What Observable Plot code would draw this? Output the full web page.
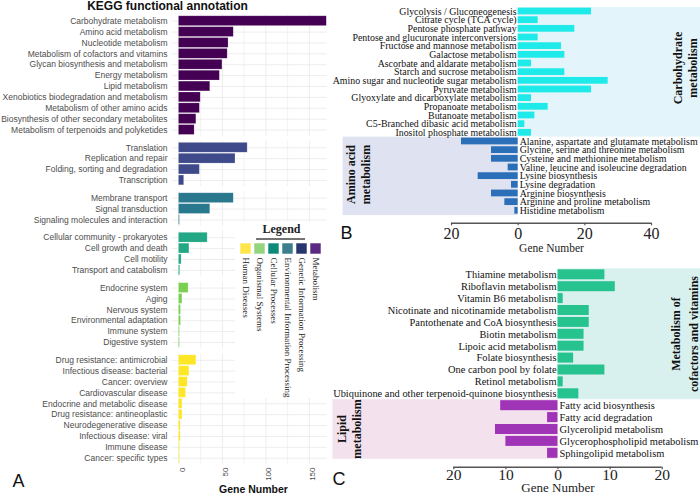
<!DOCTYPE html>
<html><head><meta charset="utf-8">
<script src="https://cdn.jsdelivr.net/npm/d3@7"></script>
<script src="https://cdn.jsdelivr.net/npm/@observablehq/plot@0.6"></script>
<style>
body{margin:0;background:#fff;}
#chart{position:relative;width:700px;height:494px;overflow:hidden;background:#fff;}
#chart svg{position:absolute;}
</style></head><body><div id="chart"></div>
<script>
// ---------- Panel A data ----------
const groupsA = ["Metabolism","Genetic Information Processing","Environmental Information Processing","Cellular Processes","Organismal Systems","Human Diseases"];
const metabolismNames = ["Carbohydrate metabolism","Amino acid metabolism","Nucleotide metabolism","Metabolism of cofactors and vitamins","Glycan biosynthesis and metabolism","Energy metabolism","Lipid metabolism","Xenobiotics biodegradation and metabolism","Metabolism of other amino acids","Biosynthesis of other secondary metabolites","Metabolism of terpenoids and polyketides"];
const metabolismValues = [170,63,57,56,50,47,36,25,24,20,18];
const geneticNames = ["Translation","Replication and repair","Folding, sorting and degradation","Transcription"];
const geneticValues = [79,65,24,6];
const environmentalNames = ["Membrane transport","Signal transduction","Signaling molecules and interaction"];
const environmentalValues = [63,36,1];
const cellularNames = ["Cellular community - prokaryotes","Cell growth and death","Cell motility","Transport and catabolism"];
const cellularValues = [33,12,3,1.4];
const organismalNames = ["Endocrine system","Aging","Nervous system","Environmental adaptation","Immune system","Digestive system"];
const organismalValues = [11,4,2.3,2.3,1,1];
const humanNames = ["Drug resistance: antimicrobial","Infectious disease: bacterial","Cancer: overview","Cardiovascular disease","Endocrine and metabolic disease","Drug resistance: antineoplastic","Neurodegenerative disease","Infectious disease: viral","Immune disease","Cancer: specific types"];
const humanValues = [20,12,10,8,4,4,2,2,1,1];
const barColorsA = ["#440154","#3e4a89","#2a788e","#22a884","#7ad151","#fde725"];
const ticksA = [0,50,100,150];
const legendOrder = ["Human Diseases","Organismal Systems","Cellular Processes","Environmental Information Processing","Genetic Information Processing","Metabolism"];
const legendColors = ["#fde64b","#95d47f","#0e8a7a","#3b7e8d","#27366f","#5b2b83"];

// ---------- Panel B data ----------
const carbNames = ["Glycolysis / Gluconeogenesis","Citrate cycle (TCA cycle)","Pentose phosphate pathway","Pentose and glucuronate interconversions","Fructose and mannose metabolism","Galactose metabolism","Ascorbate and aldarate metabolism","Starch and sucrose metabolism","Amino sugar and nucleotide sugar metabolism","Pyruvate metabolism","Glyoxylate and dicarboxylate metabolism","Propanoate metabolism","Butanoate metabolism","C5-Branched dibasic acid metabolism","Inositol phosphate metabolism"];
const carbValues = [22,6,17,6,13,14,4,14,27,22,4,9,5,2,4];
const aminoNames = ["Alanine, aspartate and glutamate metabolism","Glycine, serine and threonine metabolism","Cysteine and methionine metabolism","Valine, leucine and isoleucine degradation","Lysine biosynthesis","Lysine degradation","Arginine biosynthesis","Arginine and proline metabolism","Histidine metabolism"];
const aminoValues = [17,8,8,3,12,2,8,4,1];
const ticksB = [-20,0,20,40];

// ---------- Panel C data ----------
const cofNames = ["Thiamine metabolism","Riboflavin metabolism","Vitamin B6 metabolism","Nicotinate and nicotinamide metabolism","Pantothenate and CoA biosynthesis","Biotin metabolism","Lipoic acid metabolism","Folate biosynthesis","One carbon pool by folate","Retinol metabolism","Ubiquinone and other terpenoid-quinone biosynthesis"];
const cofValues = [9,11,1,6,6,5,5,3,9,1,4];
const lipidNames = ["Fatty acid biosynthesis","Fatty acid degradation","Glycerolipid metabolism","Glycerophospholipid metabolism","Sphingolipid metabolism"];
const lipidValues = [11,2,12,10,2];
const ticksC = [-20,-10,0,10,20];

const SANS = "'Liberation Sans', Arial, sans-serif";
const SERIF = "'Liberation Serif', 'Times New Roman', serif";
const MID = {textAnchor: "middle", lineAnchor: "middle"};
const chart = document.getElementById("chart");
function place(svg, left, top) { svg.style.left = left + "px"; svg.style.top = top + "px"; chart.appendChild(svg); }

// ---------- Panel A ----------
const namesA = [metabolismNames, geneticNames, environmentalNames, cellularNames, organismalNames, humanNames];
const valuesA = [metabolismValues, geneticValues, environmentalValues, cellularValues, organismalValues, humanValues];
const GAP = 0.63;
const rowsA = [];
let k = 0;
namesA.forEach((names, g) => names.forEach((n, j) => rowsA.push({name: n, value: valuesA[g][j], group: groupsA[g], g, pos: (k++) + g * GAP})));
const panelsA = groupsA.map((grp, g) => { const r = rowsA.filter(d => d.g === g); return {y1: r[0].pos - 0.6, y2: r[r.length - 1].pos + 0.6}; });
const gridXs = [0,25,50,75,100,125,150];
const gridSegs = panelsA.flatMap(p => gridXs.map(x => ({x, y1: p.y1, y2: p.y2, major: x % 50 === 0})));
const lastPos = rowsA[rowsA.length - 1].pos;

const plotA = Plot.plot({
  width: 340, height: 494, margin: 0,
  style: {background: "transparent", overflow: "visible"},
  x: {domain: [-8, 170.5], range: [171.5, 326.7], axis: null},
  y: {domain: [0, lastPos], range: [20.7, 457.7], axis: null},
  color: {domain: groupsA, range: barColorsA},
  marks: [
    Plot.ruleY(rowsA, {y: "pos", x1: () => -8, x2: () => 170.5, stroke: "#ebebeb", strokeWidth: 0.9}),
    Plot.ruleX(gridSegs, {x: "x", y1: "y1", y2: "y2", stroke: "#ebebeb", strokeWidth: d => d.major ? 0.9 : 0.6}),
    Plot.rect(rowsA, {x1: () => 0, x2: "value", y1: d => d.pos - 0.45, y2: d => d.pos + 0.45, fill: "group", stroke: "#ffffff", strokeOpacity: 0.3, strokeWidth: 0.6}),
    Plot.text(rowsA, {x: () => -8, y: "pos", text: "name", textAnchor: "end", dx: -4.5, fontSize: 8.5, fill: "#4d4d4d", fontFamily: SANS}),
    Plot.text(ticksA, {x: d => d, text: d => String(d), frameAnchor: "top", dy: 467, dx: 3, rotate: -90, textAnchor: "end", lineAnchor: "middle", fontSize: 8, fill: "#4d4d4d", fontFamily: SANS}),
    Plot.text(["KEGG functional annotation"], {...MID, frameAnchor: "top-left", dx: 167, dy: 6, fontSize: 12, fontWeight: "bold", fill: "#111", fontFamily: SANS}),
    Plot.text(["Gene Number"], {...MID, frameAnchor: "top-left", dx: 253, dy: 488.8, fontSize: 10.5, fontWeight: "bold", fill: "#111", fontFamily: SANS}),
    Plot.text(["A"], {frameAnchor: "top-left", dx: 12, dy: 480.9, textAnchor: "start", lineAnchor: "middle", fontSize: 18, fill: "#111", fontFamily: SANS})
  ]
});

// ---------- Legend ----------
const legendItems = legendOrder.map((name, i) => ({name, i}));
const plotLegend = Plot.plot({
  width: 95, height: 176, margin: 0,
  style: {background: "white", overflow: "visible"},
  x: {domain: [0, 5], range: [10, 80], axis: null},
  y: {type: "identity", axis: null},
  color: {domain: legendOrder, range: legendColors},
  marks: [
    Plot.text(["Legend"], {...MID, frameAnchor: "top-left", dx: 46, dy: 6.5, fontSize: 12, fontWeight: "bold", fill: "#222", fontFamily: SERIF}),
    Plot.ruleY([16.5], {x1: () => 0.79, x2: () => 4.29, stroke: "#444", strokeWidth: 1.4}),
    Plot.dot(legendItems, {x: "i", frameAnchor: "top", dy: 26, symbol: "square", r: 5.9, fill: "name"}),
    Plot.text(legendItems, {x: "i", text: "name", frameAnchor: "top", dy: 35, rotate: 90, textAnchor: "start", lineAnchor: "middle", fontSize: 9, fill: "#222", fontFamily: SERIF})
  ]
});

// ---------- Panel B ----------
const carbRows = carbNames.map((name, i) => ({name, value: carbValues[i], row: i}));
const aminoRows = aminoNames.map((name, i) => ({name, value: aminoValues[i], row: carbNames.length + i}));
const nB = carbNames.length + aminoNames.length;
const axisRowB = nB - 1 + 1.43;
const plotB = Plot.plot({
  width: 370, height: 260, margin: 0,
  style: {background: "transparent", overflow: "visible"},
  x: {domain: [-20, 40], range: [121, 321], axis: null},
  y: {domain: [0, nB - 1], range: [11, 210.3], axis: null},
  marks: [
    Plot.rect([{x1: 0, x2: 56, y1: -0.45, y2: carbNames.length - 0.5}], {x1: "x1", x2: "x2", y1: "y1", y2: "y2", fill: "#e3f5fa"}),
    Plot.rect([{x1: -52.5, x2: 0, y1: carbNames.length - 0.5, y2: nB - 0.45}], {x1: "x1", x2: "x2", y1: "y1", y2: "y2", fill: "#dfe2f0"}),
    Plot.rect(carbRows, {x1: () => 0, x2: "value", y1: d => d.row - 0.39, y2: d => d.row + 0.39, fill: "#1eeaea"}),
    Plot.rect(aminoRows, {x1: d => -d.value, x2: () => 0, y1: d => d.row - 0.39, y2: d => d.row + 0.39, fill: "#2a6fb8"}),
    Plot.text(carbRows, {x: () => 0, y: "row", text: "name", textAnchor: "end", dx: -1.5, fontSize: 9.9, fill: "#111", fontFamily: SERIF}),
    Plot.text(aminoRows, {x: () => 0, y: "row", text: "name", textAnchor: "start", dx: 1.5, fontSize: 9.9, fill: "#111", fontFamily: SERIF}),
    Plot.text(["Carbohydrate\nmetabolism"], {...MID, frameAnchor: "top-left", dx: 354.5, dy: 67.5, rotate: -90, lineHeight: 1.25, fontSize: 12, fontWeight: "bold", fill: "#111", fontFamily: SERIF}),
    Plot.text(["Amino acid\nmetabolism"], {...MID, frameAnchor: "top-left", dx: 27.5, dy: 174, rotate: -90, lineHeight: 1.25, fontSize: 12, fontWeight: "bold", fill: "#111", fontFamily: SERIF}),
    Plot.ruleY([axisRowB], {x1: () => -20, x2: () => 40, stroke: "#555", strokeWidth: 1.5}),
    Plot.ruleX(ticksB, {x: d => d, y1: () => axisRowB, y2: () => axisRowB + 0.3, stroke: "#555", strokeWidth: 1.2}),
    Plot.text(ticksB, {...MID, x: d => d, text: d => String(Math.abs(d)), frameAnchor: "top", dy: 233, fontSize: 16, fill: "#222", fontFamily: SERIF}),
    Plot.text(["Gene Number"], {...MID, x: () => 10, frameAnchor: "top", dy: 248.3, fontSize: 11.5, fill: "#222", fontFamily: SERIF}),
    Plot.text(["B"], {frameAnchor: "top-left", dx: 10, dy: 232.5, textAnchor: "start", lineAnchor: "middle", fontSize: 18, fill: "#111", fontFamily: SANS})
  ]
});

// ---------- Panel C ----------
const cofRows = cofNames.map((name, i) => ({name, value: cofValues[i], row: i}));
const lipidRows = lipidNames.map((name, i) => ({name, value: lipidValues[i], row: cofNames.length + i}));
const nC = cofNames.length + lipidNames.length;
const axisRowC = nC - 1 + 1.17;
const plotC = Plot.plot({
  width: 370, height: 234, margin: 0,
  style: {background: "transparent", overflow: "visible"},
  x: {domain: [-20, 20], range: [123.3, 331.7], axis: null},
  y: {domain: [0, nC - 1], range: [14.3, 192.8], axis: null},
  marks: [
    Plot.rect([{x1: 0, x2: 27.5, y1: -0.5, y2: cofNames.length - 0.5}], {x1: "x1", x2: "x2", y1: "y1", y2: "y2", fill: "#d8f1ef"}),
    Plot.rect([{x1: -43.2, x2: 0, y1: cofNames.length - 0.5, y2: nC - 0.5}], {x1: "x1", x2: "x2", y1: "y1", y2: "y2", fill: "#f3e1ee"}),
    Plot.rect(cofRows, {x1: () => 0, x2: "value", y1: d => d.row - 0.42, y2: d => d.row + 0.42, fill: "#27c38f"}),
    Plot.rect(lipidRows, {x1: d => -d.value, x2: () => 0, y1: d => d.row - 0.42, y2: d => d.row + 0.42, fill: "#a034b6"}),
    Plot.text(cofRows, {x: () => 0, y: "row", text: "name", textAnchor: "end", dx: -1.5, fontSize: 10.4, fill: "#111", fontFamily: SERIF}),
    Plot.text(lipidRows, {x: () => 0, y: "row", text: "name", textAnchor: "start", dx: 1.5, fontSize: 10.4, fill: "#111", fontFamily: SERIF}),
    Plot.text(["Metabolism of\ncofactors and vitamins"], {...MID, frameAnchor: "top-left", dx: 352.5, dy: 73.5, rotate: -90, lineHeight: 1.5, fontSize: 12, fontWeight: "bold", fill: "#111", fontFamily: SERIF}),
    Plot.text(["Lipid\nmetabolism"], {...MID, frameAnchor: "top-left", dx: 18, dy: 168.5, rotate: -90, lineHeight: 1.3, fontSize: 12, fontWeight: "bold", fill: "#111", fontFamily: SERIF}),
    Plot.ruleY([axisRowC], {x1: () => -20, x2: () => 20, stroke: "#555", strokeWidth: 1.5}),
    Plot.ruleX(ticksC, {x: d => d, y1: () => axisRowC, y2: () => axisRowC + 0.22, stroke: "#555", strokeWidth: 1.2}),
    Plot.text(ticksC, {...MID, x: d => d, text: d => String(Math.abs(d)), frameAnchor: "top", dy: 214.5, fontSize: 15.5, fill: "#222", fontFamily: SERIF}),
    Plot.text(["Gene Number"], {...MID, x: () => 0, frameAnchor: "top", dy: 227.6, fontSize: 13, fill: "#222", fontFamily: SERIF}),
    Plot.text(["C"], {frameAnchor: "top-left", dx: 2, dy: 219.2, textAnchor: "start", lineAnchor: "middle", fontSize: 18, fill: "#111", fontFamily: SANS})
  ]
});

place(plotB, 330, 0);
place(plotC, 330, 260);
place(plotA, 0, 0);
place(plotLegend, 235, 222);
</script></body></html>
